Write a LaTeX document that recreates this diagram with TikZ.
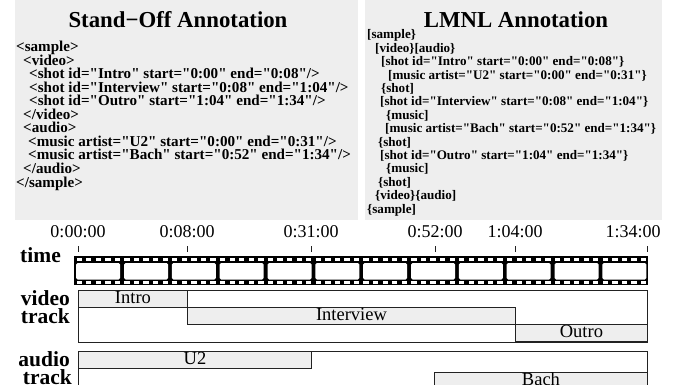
\documentclass[tikz,border=0pt]{standalone}
\usepackage{fontspec}
\setmainfont{Liberation Serif}[Ligatures=TeXOff]
\definecolor{panelgray}{HTML}{EEEEEE}
\definecolor{boxgray}{HTML}{EEEEEE}
\definecolor{edge}{HTML}{222222}
\tikzset{
  panelbox/.style={fill=panelgray, inner sep=0, anchor=north west},
  paneltitle/.style={font=\fontsize{22.8}{23}\selectfont\bfseries, anchor=base, inner sep=0},
  codeL/.style={font=\fontsize{15.1}{15}\selectfont\bfseries, anchor=base west, inner sep=0},
  codeR/.style={font=\fontsize{13.1}{13}\selectfont\bfseries, anchor=base west, inner sep=0},
  timelabel/.style={font=\fontsize{18}{18}\selectfont, anchor=base, inner sep=0},
  rowlabel/.style={font=\fontsize{21.5}{22}\selectfont\bfseries, anchor=base east, inner sep=0},
  tickmark/.style={draw=edge, line width=0.8pt},
  outerbox/.style={draw=edge, line width=0.9pt, fill=white, inner sep=0, anchor=north west, minimum height=52pt},
  segbox/.style={draw=edge, line width=0.9pt, fill=boxgray, inner sep=0, anchor=north west,
     minimum height=17pt, text height=13pt, text depth=4pt, font=\fontsize{18.5}{18}\selectfont},
}
\begin{document}
\begin{tikzpicture}[x=1pt,y=-1pt]
\useasboundingbox (0,0) rectangle (675,385);
\clip (0,0) rectangle (675,385);
% panels
\node[panelbox, minimum width=343pt, minimum height=220pt] (sopanel) at (15,0) {};
\node[panelbox, minimum width=297pt, minimum height=220pt] (lmpanel) at (365,0) {};
\node[paneltitle] (sotitle) at (178,28) {Stand−Off Annotation};
\node[paneltitle] (lmtitle) at (516,28) {LMNL Annotation};
% stand-off code
\node[codeL] (l1) at (16,52) {<sample>};
\node[codeL] (l2) at (23,65.5) {<video>};
\node[codeL] (l3) at (29,79) {<shot id="Intro" start="0:00" end="0:08"/>};
\node[codeL] (l4) at (29,92.5) {<shot id="Interview" start="0:08" end="1:04"/>};
\node[codeL] (l5) at (29,106) {<shot id="Outro" start="1:04" end="1:34"/>};
\node[codeL] (l6) at (23,119.5) {</video>};
\node[codeL] (l7) at (23,133) {<audio>};
\node[codeL] (l8) at (28,146.5) {<music artist="U2" start="0:00" end="0:31"/>};
\node[codeL] (l9) at (28,160) {<music artist="Bach" start="0:52" end="1:34"/>};
\node[codeL] (l10) at (23,173.5) {</audio>};
\node[codeL] (l11) at (16,187) {</sample>};
% LMNL code
\node[codeR] (r1) at (367,39) {[sample\}};
\node[codeR] (r2) at (375,52.4) {[video\}[audio\}};
\node[codeR] (r3) at (381,65.8) {[shot id="Intro" start="0:00" end="0:08"\}};
\node[codeR] (r4) at (388,79.2) {[music artist="U2" start="0:00" end="0:31"\}};
\node[codeR] (r5) at (381,92.6) {\{shot]};
\node[codeR] (r6) at (380,106) {[shot id="Interview" start="0:08" end="1:04"\}};
\node[codeR] (r7) at (386,119.4) {\{music]};
\node[codeR] (r8) at (385,132.8) {[music artist="Bach" start="0:52" end="1:34"\}};
\node[codeR] (r9) at (378,146.2) {\{shot]};
\node[codeR] (r10) at (380,159.6) {[shot id="Outro" start="1:04" end="1:34"\}};
\node[codeR] (r11) at (386,173) {\{music]};
\node[codeR] (r12) at (378,186.4) {\{shot]};
\node[codeR] (r13) at (375,199.8) {\{video\}\{audio]};
\node[codeR] (r14) at (367,213.2) {\{sample]};
% time axis
\foreach \xx/\lx/\lab [count=\i] in {78/78/0:00:00, 187/187/0:08:00, 311/311/0:31:00, 435/435/0:52:00, 515/515/1:04:00, 647/633/1:34:00}{
  \node[timelabel] (t\i) at (\lx,237) {\lab};
  \coordinate (ta\i) at (\xx,246);
  \coordinate (tb\i) at (\xx,252);
  \draw[tickmark] (ta\i) -- (tb\i);
}
% film strip
\fill[black] (74,256) rectangle (648,285);
\foreach \i in {0,...,11}{
  \pgfmathsetmacro{\fl}{74+\i*47.83}
  \fill[white, rounded corners=1.5pt] (\fl+2.2,263) rectangle (\fl+47.83-1.6,279.5);
  \foreach \j in {0,...,4}{
    \pgfmathsetmacro{\hx}{\fl+2.5+\j*9.57}
    \fill[white] (\hx,258.4) rectangle (\hx+5.3,260.9);
    \fill[white] (\hx,281.3) rectangle (\hx+5.3,283.6);
  }
}
% row labels
\node[rowlabel] (ltime) at (61,262) {time};
\node[rowlabel] (lvideo) at (70,305) {video};
\node[rowlabel] (lvtrack) at (70,323) {track};
\node[rowlabel] (laudio) at (70,366) {audio};
\node[rowlabel] (latrack) at (72,384) {track};
% video track
\node[outerbox, minimum width=569pt] (vtrack) at (78,290) {};
\node[segbox, minimum width=109pt] (intro) at (78,290) {Intro};
\node[segbox, minimum width=328pt] (interview) at (187,307) {Interview};
\node[segbox, minimum width=132pt] (outro) at (515,324) {Outro};
% audio track
\node[outerbox, minimum width=569pt] (atrack) at (78,351) {};
\node[segbox, minimum width=233pt] (u2) at (78,351) {U2};
\node[segbox, minimum width=213pt] (bach) at (434,372) {Bach};
\end{tikzpicture}
\end{document}
